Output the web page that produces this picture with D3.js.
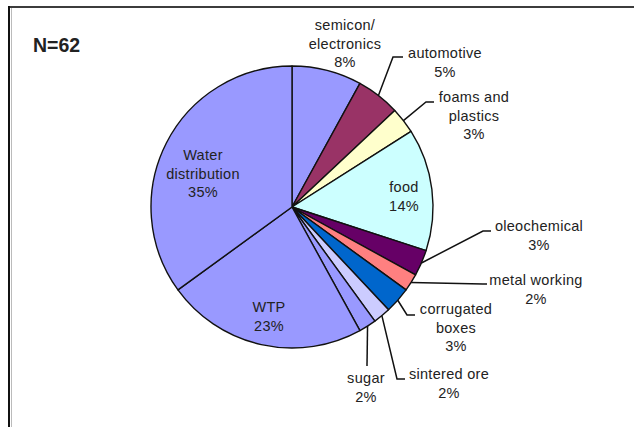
<!DOCTYPE html>
<html>
<head>
<meta charset="utf-8">
<script src="https://cdn.jsdelivr.net/npm/d3@7"></script>
<style>
  html, body { margin: 0; padding: 0; background: #fff; }
  svg { display: block; }
  text { font-family: "Liberation Sans", Arial, sans-serif; fill: #222; }
</style>
</head>
<body>
<svg id="chart" width="634" height="427"></svg>
<script>
// Sectors, clockwise from 12 o'clock
const categories = ["semicon/\nelectronics", "automotive", "foams and\nplastics", "food",
  "oleochemical", "metal working", "corrugated\nboxes", "sintered ore", "sugar",
  "WTP", "Water\ndistribution"];
const values = [8, 5, 3, 14, 3, 2, 3, 2, 2, 23, 35];
const sampleSize = 62;

const colors = ["#9999FF", "#993366", "#FFFFCC", "#CCFFFF", "#660066", "#FF8080",
  "#0066CC", "#CCCCFF", "#9999FF", "#9999FF", "#9999FF"];

// Label placement: text centre (x, first line y) and optional leader elbow/end
const labelLayout = [
  { x: 345, y: 25 },
  { x: 445, y: 53, elbow: [393, 57], end: [403, 57] },
  { x: 474, y: 97, elbow: [426, 102], end: [434, 102] },
  { x: 404, y: 187 },
  { x: 539, y: 226, elbow: [483, 231], end: [491, 231] },
  { x: 536, y: 280, elbow: [483, 284], end: [487, 284] },
  { x: 456, y: 309, elbow: [407, 315], end: [415, 315] },
  { x: 449, y: 374, elbow: [397, 379], end: [405, 379] },
  { x: 366, y: 378, elbow: [367, 366], end: [367, 366] },
  { x: 269, y: 307 },
  { x: 203, y: 155 }
];

const svg = d3.select("#chart");
const cx = 292, cy = 207, radius = 141;
const lineH = 18.5;

// Frame
svg.append("line").attr("x1", 8).attr("x2", 634).attr("y1", 7).attr("y2", 7)
  .attr("stroke", "#3c3c3c").attr("stroke-width", 2);
svg.append("line").attr("x1", 9).attr("x2", 9).attr("y1", 6).attr("y2", 427)
  .attr("stroke", "#111").attr("stroke-width", 2);
svg.append("line").attr("x1", 11.5).attr("x2", 11.5).attr("y1", 8).attr("y2", 427)
  .attr("stroke", "#bbb").attr("stroke-width", 1);

svg.append("text").attr("x", 33).attr("y", 52)
  .attr("font-size", 19.5).attr("font-weight", "bold").attr("fill", "#111")
  .text("N=" + sampleSize);

const data = categories.map((c, i) => ({ name: c, value: values[i], color: colors[i], layout: labelLayout[i] }));

const pie = d3.pie().value(d => d.value).sort(null).startAngle(0).endAngle(2 * Math.PI);
const arcs = pie(data);
const arc = d3.arc().innerRadius(0).outerRadius(radius);
const rimArc = d3.arc().innerRadius(radius).outerRadius(radius);

const g = svg.append("g").attr("transform", `translate(${cx},${cy})`);
g.selectAll("path.slice").data(arcs).join("path")
  .attr("class", "slice")
  .attr("d", arc)
  .attr("fill", d => d.data.color)
  .attr("stroke", "#111")
  .attr("stroke-width", 1.4)
  .attr("stroke-linejoin", "round");

// Leader lines from the rim midpoint of each small sector
arcs.forEach(a => {
  const L = a.data.layout;
  if (!L.elbow) return;
  const p = rimArc.centroid(a);
  const pts = [[cx + p[0], cy + p[1]], L.elbow, L.end];
  svg.append("path")
    .attr("d", d3.line()(pts))
    .attr("fill", "none")
    .attr("stroke", "#111")
    .attr("stroke-width", 1.5);
});

// Labels: category lines followed by percentage
arcs.forEach(a => {
  const L = a.data.layout;
  const lines = a.data.name.split("\n").concat([d3.format(".0f")(a.data.value) + "%"]);
  const t = svg.append("text")
    .attr("text-anchor", "middle")
    .attr("font-size", 14.5)
    .attr("letter-spacing", 0.3);
  lines.forEach((s, i) => {
    t.append("tspan")
      .attr("x", L.x)
      .attr("y", L.y + i * lineH)
      .attr("dy", "0.35em")
      .text(s);
  });
});
</script>
</body>
</html>
